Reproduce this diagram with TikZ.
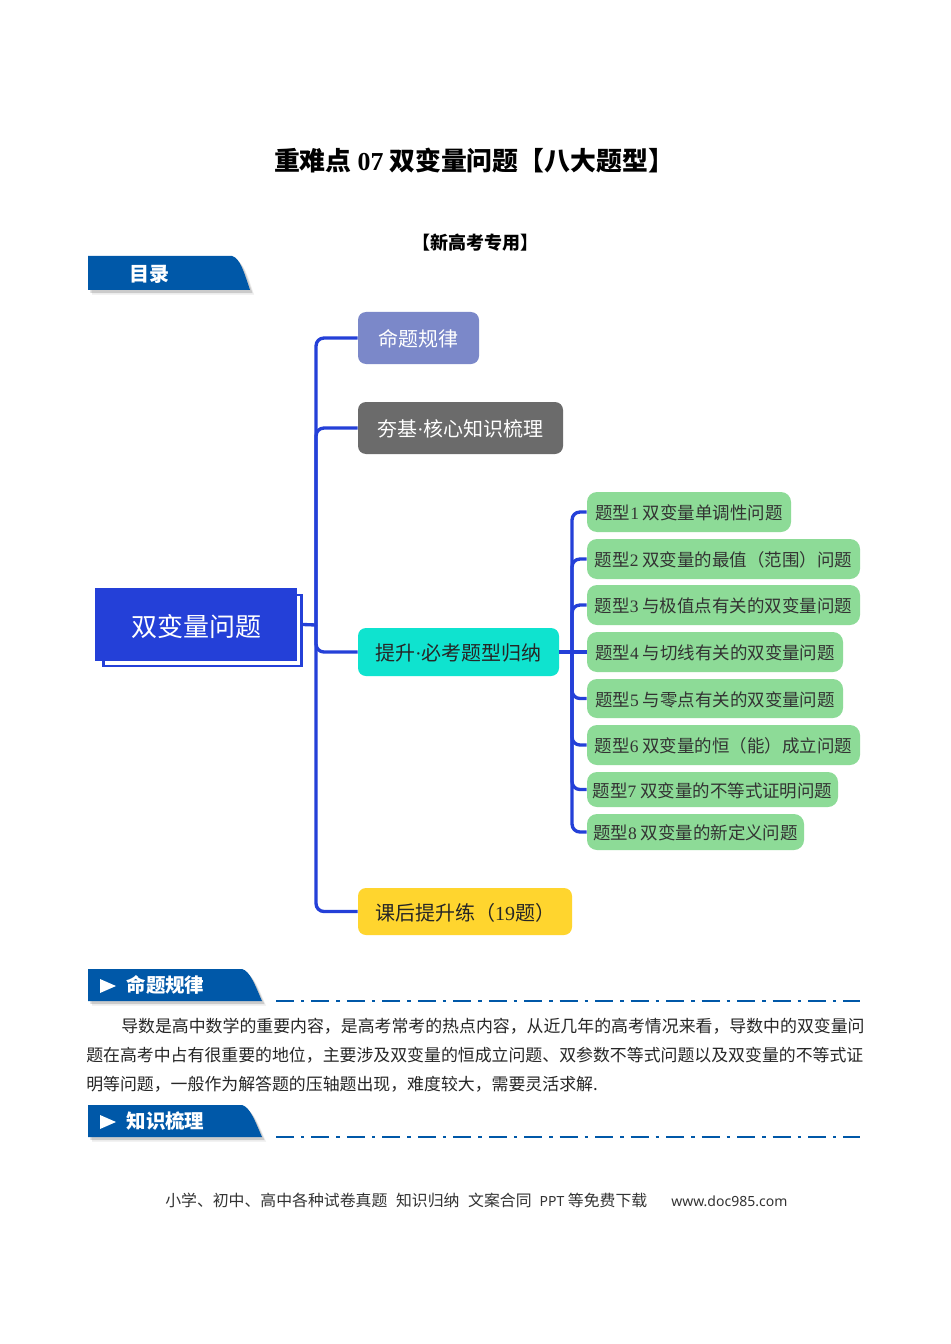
\documentclass[tikz,border=0pt]{standalone}
\usepackage{fontspec}
\setmainfont{Noto Sans CJK SC}
\newfontfamily\latn{Liberation Serif}
\newfontfamily\webfont{Noto Sans}
\usetikzlibrary{shadows}
\definecolor{linkblue}{HTML}{2440D8}
\definecolor{bannerblue}{HTML}{0058A8}
\definecolor{lonefill}{HTML}{7B88C9}
\definecolor{lgrayfill}{HTML}{6B6B6B}
\definecolor{tealfill}{HTML}{0FE3CF}
\definecolor{yellowfill}{HTML}{FFD52E}
\definecolor{greenfill}{HTML}{8DDB97}
\tikzset{
  boxsize/.style 2 args={minimum width=#1*0.75pt,minimum height=#2*0.75pt},
  link/.style={draw=linkblue,line width=2.5pt,rounded corners=6pt},
  lvlone/.style={rounded corners=6pt,inner sep=0pt,text height=13.5pt,text depth=0.6pt,font=\fontsize{15}{18}\selectfont},
  topic/.style={fill=greenfill,rounded corners=7.5pt,inner sep=0pt,text=black!80,text height=12pt,text depth=0.6pt,font=\fontsize{13.1}{16}\selectfont},
  bannerfill/.style={fill=bannerblue,
    drop shadow={shadow xshift=3pt,shadow yshift=-3.5pt,opacity=0.15},
    drop shadow={shadow xshift=1.8pt,shadow yshift=-2.2pt,opacity=0.3}},
  bodyline/.style={anchor=west,inner sep=0pt,text=black!85,font=\fontsize{12.67}{15}\selectfont},
  sectionrule/.style={draw=bannerblue,line width=1.9pt,dash pattern=on 13.5pt off 5.25pt on 2.6pt off 5.25pt},
}
\begin{document}
\begin{tikzpicture}[x=0.75pt,y=-0.75pt]
  \useasboundingbox (0,0) rectangle (950,1344);
  \fill[white] (0,0) rectangle (950,1344);

  \node[inner sep=0pt,font=\fontsize{19.4}{23}\selectfont\bfseries] (title) at (474,161) {重难点 {\latn 07} 双变量问题【八大题型】};
  \node[inner sep=0pt,font=\fontsize{13.5}{16}\selectfont\bfseries] (subtitle) at (475,243) {【新高考专用】};

  \fill[bannerfill] (88,256) -- (232,256) .. controls (240,258) and (244,272) .. (250,290) -- (88,290) -- cycle;
  \node[inner sep=0pt,text=white,font=\fontsize{15}{18}\selectfont\bfseries] (toc) at (149,274) {目录};

  % root
  \node[boxsize={198}{71},draw=linkblue,fill=white,line width=2.2pt,inner sep=0pt] (rootback) at (202.5,630.5) {};
  \node[boxsize={202}{73},fill=linkblue,inner sep=0pt,text=white,text height=18.5pt,text depth=0.6pt,font=\fontsize{19.5}{24}\selectfont] (root) at (196,624.5) {双变量问题};

  % first level
  \node[lvlone,boxsize={121}{52},fill=lonefill,text=white] (lone) at (418.5,338) {命题规律};
  \node[lvlone,boxsize={205}{52},fill=lgrayfill,text=white] (ltwo) at (460.5,428) {夯基{\latn ·}核心知识梳理};
  \node[lvlone,boxsize={201}{48},fill=tealfill,text=black!85] (lthree) at (458.5,652) {提升{\latn ·}必考题型归纳};
  \node[lvlone,boxsize={214}{47},fill=yellowfill,text=black!85] (lfour) at (465,911.5) {课后提升练（{\latn 19}题）};

  % second level
  \node[topic,boxsize={204}{40}] (t1) at (689,512) {题型{\latn 1} 双变量单调性问题};
  \node[topic,boxsize={273}{40}] (t2) at (723.5,559) {题型{\latn 2} 双变量的最值（范围）问题};
  \node[topic,boxsize={273}{40}] (t3) at (723.5,605) {题型{\latn 3} 与极值点有关的双变量问题};
  \node[topic,boxsize={256}{40}] (t4) at (715,652) {题型{\latn 4} 与切线有关的双变量问题};
  \node[topic,boxsize={256}{39}] (t5) at (715,698.5) {题型{\latn 5} 与零点有关的双变量问题};
  \node[topic,boxsize={273}{40}] (t6) at (723.5,745) {题型{\latn 6} 双变量的恒（能）成立问题};
  \node[topic,boxsize={251}{35}] (t7) at (712.5,789.5) {题型{\latn 7} 双变量的不等式证明问题};
  \node[topic,boxsize={217}{36}] (t8) at (695.5,832) {题型{\latn 8} 双变量的新定义问题};

  \coordinate (trunk) at (316,625);
  \coordinate (branch) at (572,652);
  \draw[link] (rootback.east |- root.east) -- (trunk);
  \foreach \n in {lone,ltwo,lthree,lfour}
    \draw[link] (trunk) |- (\n.west);
  \draw[link] (lthree.east) -- (t4.west);
  \foreach \n in {t1,t2,t3,t5,t6,t7,t8}
    \draw[link] (branch) |- (\n.west);

  % section banners
  \foreach \y/\lab in {969/命题规律,1105/知识梳理} {
    \fill[bannerfill] (88,\y) -- (242,\y) .. controls (250,\y+2) and (255,\y+16) .. (262,\y+32) -- (88,\y+32) -- cycle;
    \fill[white] (100,\y+10) -- (116,\y+17) -- (100,\y+24) -- cycle;
    \node[inner sep=0pt,text=white,font=\fontsize{14.6}{18}\selectfont\bfseries] (sec\y) at (165.5,\y+16) {\lab};
    \draw[sectionrule] (276,\y+32) -- (860,\y+32);
  }

  \node[bodyline] (body1) at (121,1026) {导数是高中数学的重要内容，是高考常考的热点内容，从近几年的高考情况来看，导数中的双变量问};
  \node[bodyline] (body2) at (86,1055) {题在高考中占有很重要的地位，主要涉及双变量的恒成立问题、双参数不等式问题以及双变量的不等式证};
  \node[bodyline] (body3) at (86,1084) {明等问题，一般作为解答题的压轴题出现，难度较大，需要灵活求解.};

  \node[anchor=west,inner sep=0pt,text=black!80,font=\fontsize{11.9}{15}\selectfont] (footer) at (165,1200)
    {小学、初中、高中各种试卷真题\hspace{6.5pt}知识归纳\hspace{6.5pt}文案合同\hspace{6pt}{\webfont\fontsize{10.5}{15}\selectfont PPT} 等免费下载\hspace{18pt}{\webfont\fontsize{10.5}{15}\selectfont www.doc985.com}};
\end{tikzpicture}
\end{document}
